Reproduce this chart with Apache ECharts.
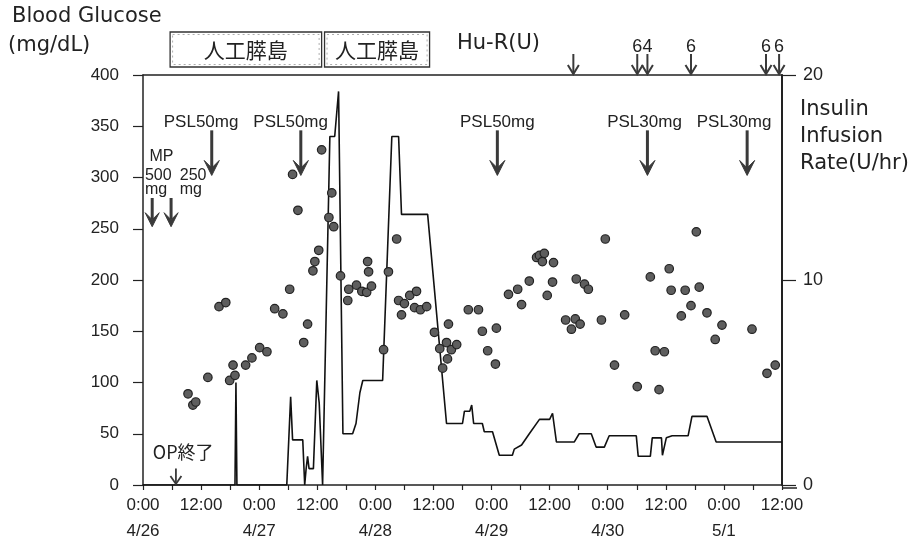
<!DOCTYPE html>
<html>
<head>
<meta charset="utf-8">
<script src="https://cdn.jsdelivr.net/npm/echarts@6/dist/echarts.min.js"></script>
<style>html,body{margin:0;padding:0;background:#fff;}#c{width:915px;height:544px;}</style>
</head>
<body>
<div id="c"></div>
<script>
// ---- data (hours since 4/26 0:00) ----
const dateLabels = ['4/26','4/27','4/28','4/29','4/30','5/1'];
const glucose = [[9.3,89],[10.3,78],[10.9,81],[13.4,105],[15.7,174],[17.1,178],[17.9,102],[18.6,117],[19.0,107],[21.2,117],[22.5,124],[24.1,134],[25.6,130],[27.2,172],[28.9,167],[30.3,191],[30.9,303],[32.0,268],[33.2,139],[34.0,157],[35.1,209],[35.5,218],[36.3,229],[36.9,327],[38.4,261],[39.0,285],[39.4,252],[40.8,204],[42.3,180],[42.5,191],[44.1,195],[45.2,189],[46.2,188],[46.4,218],[46.6,208],[47.2,194],[49.7,132],[50.7,208],[52.4,240],[52.8,180],[53.4,166],[54.0,177],[55.1,185],[56.1,173],[56.5,189],[57.3,171],[58.6,174],[60.2,149],[61.3,133],[61.9,114],[62.7,139],[62.9,123],[63.1,157],[63.7,132],[64.8,137],[67.2,171],[69.3,171],[70.1,150],[71.2,131],[72.8,118],[73.0,153],[75.5,186],[77.4,191],[78.2,176],[79.8,199],[81.3,222],[81.9,224],[82.5,218],[82.9,226],[83.5,185],[84.6,198],[84.8,217],[87.3,161],[88.5,152],[89.3,162],[89.5,201],[90.3,157],[91.2,196],[92.0,191],[94.7,161],[95.5,240],[97.4,117],[99.5,166],[102.1,96],[104.8,203],[105.8,131],[106.6,93],[107.7,130],[108.7,211],[109.1,190],[111.2,165],[112.0,190],[113.2,175],[114.3,247],[114.9,193],[116.5,168],[118.2,142],[119.6,156],[125.8,152],[128.9,109],[130.6,117]];
const insulin = [[0,0],[19.0,0],[19.2,5.0],[19.4,0],[29.7,0],[30.5,4.3],[30.9,2.2],[33.0,2.2],[33.4,0],[33.7,0.8],[34.0,1.4],[34.3,0.8],[35.2,0.8],[35.9,5.1],[36.4,4.0],[37.1,0],[38.6,17.0],[39.6,17.0],[40.4,19.2],[41.3,2.5],[43.3,2.5],[44.0,3.0],[44.8,4.5],[45.4,5.1],[49.5,5.1],[51.4,17.0],[52.8,17.0],[53.4,13.2],[58.8,13.2],[62.7,3.0],[66.0,3.0],[66.4,3.6],[67.5,3.6],[67.9,3.9],[68.3,3.0],[70.1,3.0],[70.5,2.6],[72.2,2.6],[73.6,1.45],[76.3,1.45],[76.7,1.75],[78.2,1.95],[79.8,2.5],[81.9,3.2],[84.0,3.2],[84.6,3.5],[85.4,2.1],[89.1,2.1],[90.1,2.5],[92.6,2.5],[93.6,1.85],[95.3,1.85],[96.3,2.4],[101.9,2.4],[102.3,1.4],[104.8,1.4],[105.2,2.3],[107.1,2.3],[107.3,1.45],[108.1,2.3],[109.3,2.4],[112.6,2.4],[113.4,3.35],[116.5,3.35],[118.4,2.1],[132,2.1]];
const pslHours = [14.2, 32.6, 73.2, 104.2, 124.8];
const pslTextHours = [12.0, 30.5, 73.2, 103.6, 122.1];
const pslLabels = ['PSL50mg','PSL50mg','PSL50mg','PSL30mg','PSL30mg'];
const mpHours = [1.9, 5.8];
const mpTextHours = [0.4, 7.6];
const mpDoses = ['500\nmg', '250\nmg'];
const opHours = [6.8];
const opTextHours = [8.3];
const opLabels = ['OP終了'];
const huRHours = [88.9, 102.1, 104.2, 113.2, 128.7, 131.4];
const huRDoses = ['', '6', '4', '6', '6', '6'];
const apPeriods = [[5.6, 36.9], [37.5, 59.2]];
const apLabels = ['人工膵島', '人工膵島'];

const FONT = '"Liberation Sans", Arial, "Noto Sans CJK JP", sans-serif';
const TFONT = '"DejaVu Sans", "Liberation Sans", sans-serif';
const CJK = '"Noto Sans CJK JP", sans-serif';
const INK = '#222';
const ARROW = '#3a3a3a';

function filledArrow(x, yTail, yTip, hw, hh, lw) {
  return [
    {type:'line', shape:{x1:x, y1:yTail, x2:x, y2:yTip - hh*0.5}, style:{stroke:ARROW, lineWidth:lw}},
    {type:'polygon', shape:{points:[[x-hw/2, yTip-hh],[x, yTip],[x+hw/2, yTip-hh],[x, yTip-hh*0.5]]}, style:{fill:ARROW, stroke:ARROW, lineWidth:1}}
  ];
}
function openArrow(x, yTail, yTip, hw, hh, lw) {
  return [
    {type:'line', shape:{x1:x, y1:yTail, x2:x, y2:yTip}, style:{stroke:ARROW, lineWidth:lw}},
    {type:'polyline', shape:{points:[[x-hw/2, yTip-hh],[x, yTip],[x+hw/2, yTip-hh]]}, style:{stroke:ARROW, lineWidth:lw, fill:null}}
  ];
}

const chart = echarts.init(document.getElementById('c'), null, {renderer:'canvas'});
const option = {
  animation: false,
  backgroundColor: '#fff',
  grid: {left:143, right:133, top:75, bottom:56},
  xAxis: [{
    type:'value', min:0, max:132, interval:6, position:'bottom',
    axisLine:{show:true, onZero:false, lineStyle:{color:INK, width:1.5}},
    axisTick:{show:true, length:5, lineStyle:{color:INK, width:1.2}},
    splitLine:{show:false},
    axisLabel:{
      margin:7, fontSize:17, lineHeight:26, color:INK, fontFamily:FONT,
      showMinLabel:true, showMaxLabel:true,
      formatter: v => (v % 24 === 0) ? ('0:00\n' + dateLabels[v/24]) : (v % 12 === 0 ? '12:00' : '')
    }
  }, {
    type:'value', min:0, max:132, position:'top',
    axisLine:{show:true, onZero:false, lineStyle:{color:INK, width:1.5}},
    axisTick:{show:false}, axisLabel:{show:false}, splitLine:{show:false}
  }],
  yAxis: [{
    type:'value', min:0, max:400, interval:50, position:'left',
    axisLine:{show:true, onZero:false, lineStyle:{color:INK, width:1.5}},
    axisTick:{show:true, length:10, lineStyle:{color:INK, width:1.2}},
    splitLine:{show:false},
    axisLabel:{margin:24, fontSize:17, color:INK, fontFamily:FONT}
  }, {
    type:'value', min:0, max:20, interval:10, position:'right',
    axisLine:{show:true, onZero:false, lineStyle:{color:INK, width:2}},
    axisTick:{show:true, length:14, lineStyle:{color:INK, width:1.2}},
    splitLine:{show:false},
    axisLabel:{margin:21, fontSize:18, color:INK, fontFamily:FONT}
  }],
  graphic: [
    {type:'text', left:12, top:6, style:{text:'Blood Glucose', font:'21px ' + TFONT, fill:INK}},
    {type:'text', left:8, top:35, style:{text:'(mg/dL)', font:'21px ' + TFONT, fill:INK}},
    {type:'text', left:457, top:33, style:{text:'Hu-R(U)', font:'21px ' + TFONT, fill:INK}},
    {type:'text', left:800, top:99, style:{text:'Insulin', font:'21px ' + TFONT, fill:INK}},
    {type:'text', left:800, top:126, style:{text:'Infusion', font:'21px ' + TFONT, fill:INK}},
    {type:'text', left:800, top:153, style:{text:'Rate(U/hr)', font:'21px ' + TFONT, fill:INK}},
    {type:'line', shape:{x1:782, y1:488, x2:797, y2:488}, style:{stroke:INK, lineWidth:1.5}}
  ],
  series: [
    {
      name:'insulin', type:'line', xAxisIndex:0, yAxisIndex:1, data:insulin,
      symbol:'none', lineStyle:{color:'#111', width:1.6}, z:2
    },
    {
      name:'glucose', type:'scatter', xAxisIndex:0, yAxisIndex:0, data:glucose,
      symbol:'circle', symbolSize:8.5,
      itemStyle:{color:'#5e5e5e', borderColor:'#222', borderWidth:1.2, opacity:1}, z:3
    },
    {
      name:'psl', type:'custom', xAxisIndex:0, yAxisIndex:0, clip:false, z:4,
      data: pslHours.map((h,i) => [h, pslTextHours[i], 0]),
      encode:{x:[0,1], y:2},
      renderItem: (params, api) => {
        const tail = api.coord([api.value(0), 346]);
        const tip = api.coord([api.value(0), 302]);
        const t = api.coord([api.value(1), 354]);
        return {type:'group', children: filledArrow(tip[0], tail[1], tip[1], 15, 15, 3).concat([
          {type:'text', style:{text:pslLabels[params.dataIndex], x:t[0], y:t[1], align:'center', verticalAlign:'middle', font:'17px ' + FONT, fill:INK}}
        ])};
      }
    },
    {
      name:'mp', type:'custom', xAxisIndex:0, yAxisIndex:0, clip:false, z:4,
      data: mpHours.map((h,i) => [h, mpTextHours[i], 0]),
      encode:{x:[0,1], y:2},
      renderItem: (params, api) => {
        const tail = api.coord([api.value(0), 280]);
        const tip = api.coord([api.value(0), 252]);
        const t = api.coord([api.value(1), 309]);
        const kids = filledArrow(tip[0], tail[1], tip[1], 14, 14, 3).concat([
          {type:'text', style:{text:mpDoses[params.dataIndex], x:t[0], y:t[1], align:'left', verticalAlign:'top', lineHeight:14, font:'16px ' + FONT, fill:INK}}
        ]);
        if (params.dataIndex === 0) {
          const m = api.coord([(mpTextHours[0] + mpTextHours[1]) / 2 - 0.2, 320]);
          kids.push({type:'text', style:{text:'MP', x:m[0], y:m[1], align:'center', verticalAlign:'middle', font:'16px ' + FONT, fill:INK}});
        }
        return {type:'group', children:kids};
      }
    },
    {
      name:'op', type:'custom', xAxisIndex:0, yAxisIndex:0, clip:false, z:4,
      data: opHours.map((h,i) => [h, opTextHours[i], 0]),
      encode:{x:[0,1], y:2},
      renderItem: (params, api) => {
        const tip = api.coord([api.value(0), 1]);
        const tail = api.coord([api.value(0), 16]);
        const t = api.coord([api.value(1), 32]);
        return {type:'group', children: openArrow(tip[0], tail[1], tip[1], 11, 8, 1.8).concat([
          {type:'text', style:{text:opLabels[params.dataIndex], x:t[0], y:t[1], align:'center', verticalAlign:'middle', font:'18px ' + CJK, fill:INK}}
        ])};
      }
    },
    {
      name:'hur', type:'custom', xAxisIndex:0, yAxisIndex:0, clip:false, z:4,
      data: huRHours.map(h => [h, 0]),
      encode:{x:0, y:1},
      renderItem: (params, api) => {
        const tip = api.coord([api.value(0), 400]);
        const kids = openArrow(tip[0], tip[1] - 21, tip[1] - 1, 11, 9, 2);
        const d = huRDoses[params.dataIndex];
        if (d) kids.push({type:'text', style:{text:d, x:tip[0], y:tip[1] - 28, align:'center', verticalAlign:'middle', font:'18px ' + FONT, fill:INK}});
        return {type:'group', children:kids};
      }
    },
    {
      name:'ap', type:'custom', xAxisIndex:0, yAxisIndex:0, clip:false, z:4,
      data: apPeriods.map(p => [p[0], p[1], 0]),
      encode:{x:[0,1], y:2},
      renderItem: (params, api) => {
        const a = api.coord([api.value(0), 400]);
        const b = api.coord([api.value(1), 400]);
        const y0 = a[1] - 43, h = 35;
        return {type:'group', children:[
          {type:'rect', shape:{x:a[0], y:y0, width:b[0]-a[0], height:h}, style:{fill:'#fff', stroke:'#333', lineWidth:1.3}},
          {type:'rect', shape:{x:a[0]+2.5, y:y0+2.5, width:b[0]-a[0]-5, height:h-5}, style:{fill:null, stroke:'#999', lineWidth:0.8, lineDash:[2,3]}},
          {type:'text', style:{text:apLabels[params.dataIndex], x:(a[0]+b[0])/2, y:y0 + h/2 + 1, align:'center', verticalAlign:'middle', font:'21px ' + CJK, fill:INK}}
        ]};
      }
    }
  ]
};
chart.setOption(option);
</script>
</body>
</html>
